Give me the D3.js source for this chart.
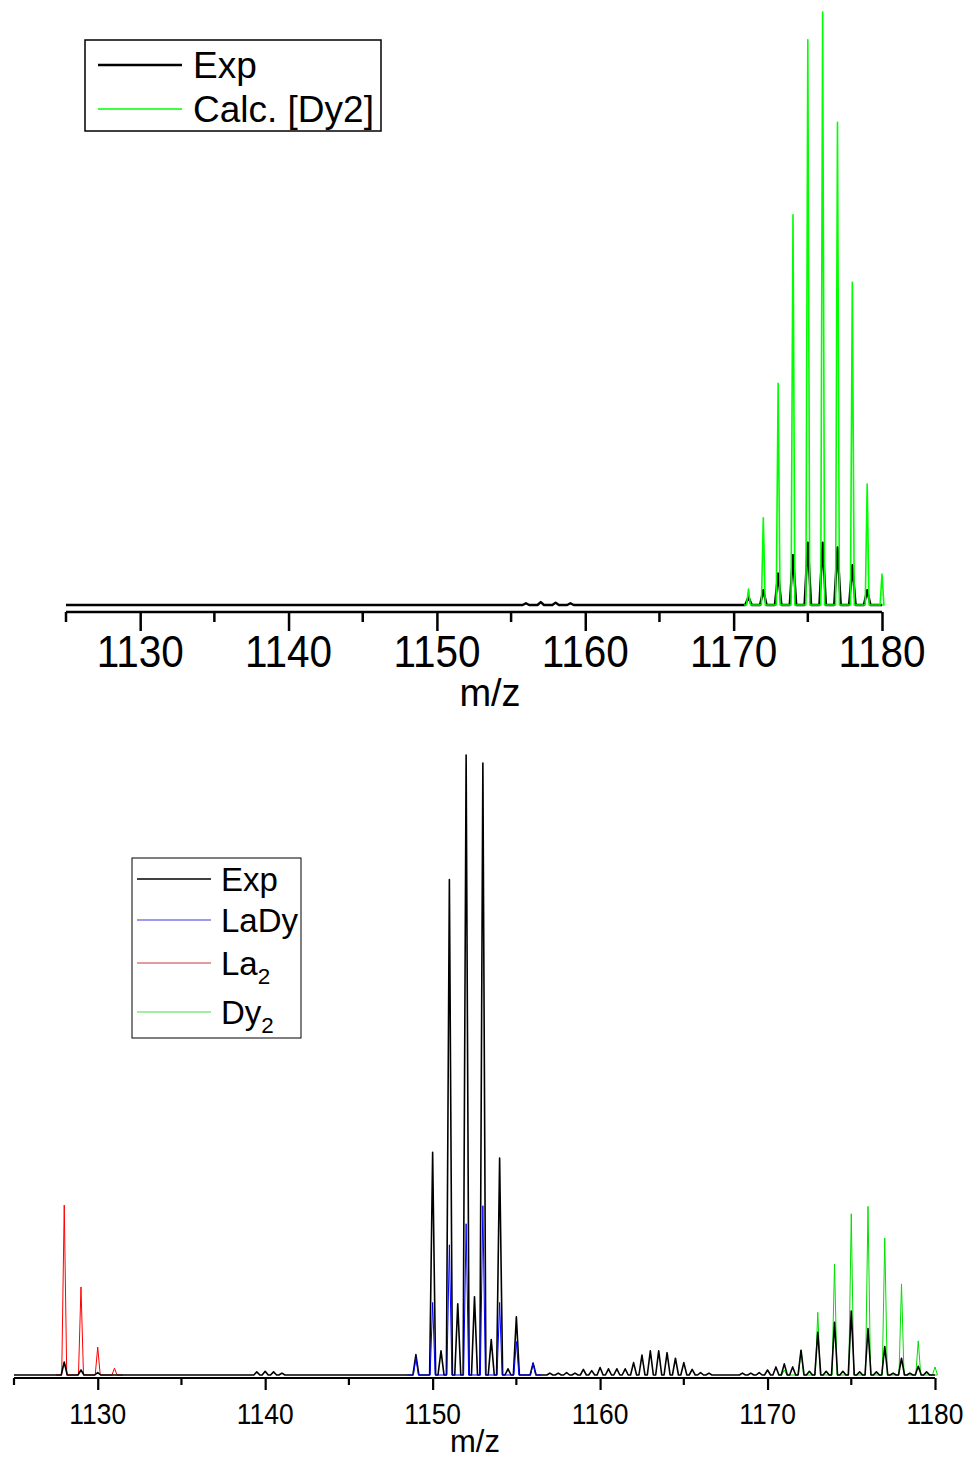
<!DOCTYPE html>
<html>
<head>
<meta charset="utf-8">
<script src="https://cdn.jsdelivr.net/npm/d3@7"></script>
<style>
  html, body { margin: 0; padding: 0; background: #fff; }
  svg { display: block; font-family: "Liberation Sans", Arial, sans-serif; }
</style>
</head>
<body>
<svg id="chart" width="968" height="1461"></svg>
<script>
//// DATA  (m/z, relative intensity)

// top panel: experiment vs calculated Dy2
const topExp = [
  [1156, 0.3], [1157, 0.5], [1158, 0.4], [1159, 0.3],
  [1171, 1.3], [1172, 2.5], [1173, 5.3], [1174, 8.4], [1175, 10.5],
  [1176, 10.5], [1177, 9.7], [1178, 6.7], [1179, 2.5]
];
const topDy2 = [
  [1171, 2.7], [1172, 14.7], [1173, 37.4], [1174, 65.8], [1175, 95.3],
  [1176, 100], [1177, 81.4], [1178, 54.4], [1179, 20.4], [1180, 5.2]
];

// bottom panel: experiment vs LaDy, La2, Dy2
const botExp = [
  [1128, 2.1], [1129, 0.8], [1130, 0.4],
  [1139.5, 0.5], [1140, 0.6], [1140.5, 0.5], [1141, 0.3],
  [1149, 3.3], [1150, 35.9], [1150.5, 3.9], [1151, 79.9], [1151.5, 11.5],
  [1152, 100], [1152.5, 12.6], [1153, 98.7], [1153.5, 5.7], [1154, 35],
  [1154.5, 1], [1155, 9.4], [1156, 1.9],
  [1157, 0.3], [1157.5, 0.3], [1158, 0.4], [1158.5, 0.3], [1159, 0.9],
  [1159.5, 0.7], [1160, 1.2], [1160.5, 1.0], [1161, 1.0], [1161.5, 1.0],
  [1162, 2.0], [1162.5, 3.2], [1163, 3.9], [1163.5, 3.9], [1164, 3.6],
  [1164.5, 2.7], [1165, 2.0], [1165.5, 0.9], [1166, 0.4], [1166.5, 0.3],
  [1168.5, 0.3], [1169, 0.3], [1169.5, 0.4],
  [1170, 0.8], [1170.5, 1.3], [1171, 1.8], [1171.5, 1.3], [1172, 4.0],
  [1172.5, 0.6], [1173, 6.9], [1173.5, 0.6], [1174, 8.5], [1174.5, 0.6],
  [1175, 10.3], [1175.5, 0.5], [1176, 7.5], [1176.5, 0.5], [1177, 4.6],
  [1177.5, 0.3], [1178, 2.7], [1178.5, 0.3], [1179, 1.4], [1179.5, 0.5]
];
const botLaDy = [
  [1149, 2.7], [1150, 11.7], [1151, 21], [1152, 24.4], [1153, 27.3],
  [1154, 11.7], [1155, 5.4], [1156, 2]
];
const botLa2 = [[1128, 27.4], [1129, 14.2], [1130, 4.5], [1131, 1.1]];
const botDy2 = [
  [1171, 0.8], [1172, 4.0], [1173, 10.1], [1174, 17.9], [1175, 26.0],
  [1176, 27.2], [1177, 22.1], [1178, 14.7], [1179, 5.5], [1180, 1.3]
];

const majorTicks = [1130, 1140, 1150, 1160, 1170, 1180];
const minorTicks = [1125, 1135, 1145, 1155, 1165, 1175];

//// SETUP

const svg = d3.select("#chart");

// turn a peak list into a stick-like trace between lo and hi
function trace(peaks, hw, lo, hi) {
  let pts = [[lo, 0]];
  peaks.forEach(function (p) {
    pts.push([p[0] - hw, 0], [p[0], p[1]], [p[0] + hw, 0]);
  });
  pts.push([hi, 0]);
  return pts;
}

function drawPanel(opt) {
  const x = d3.scaleLinear().domain([1125, 1180]).range([opt.x0, opt.x1]);
  const y = d3.scaleLinear().domain([0, 100]).range([opt.base, opt.top]);
  const line = d3.line().x(d => x(d[0])).y(d => y(d[1]));
  const g = svg.append("g");

  opt.series.forEach(function (s) {
    g.append("path")
      .datum(trace(s.peaks, s.hw, s.lo, s.hi))
      .attr("d", line)
      .attr("fill", "none")
      .attr("stroke", s.color)
      .attr("stroke-width", s.width)
      .attr("stroke-linejoin", "round");
  });

  // bottom axis
  const ax = g.append("g").attr("transform", "translate(0," + opt.axisY + ")");
  ax.call(d3.axisBottom(x).tickValues(majorTicks).tickSize(opt.major).tickFormat(""));
  ax.call(g2 => g2.selectAll(".minor").data(minorTicks).enter()
    .append("line").attr("class", "minor")
    .attr("x1", d => x(d)).attr("x2", d => x(d))
    .attr("y1", 0).attr("y2", opt.minor));
  ax.selectAll(".domain").attr("d", "M" + opt.x0 + ",0H" + opt.x1);
  ax.selectAll("path, line").attr("stroke", "#000").attr("stroke-width", opt.axisW);

  majorTicks.forEach(function (t) {
    g.append("text")
      .attr("transform", "translate(" + x(t) + "," + opt.labelY + ") scale(" + opt.squeeze + ",1)")
      .attr("text-anchor", "middle")
      .attr("font-size", opt.labelSize)
      .text(t);
  });
  g.append("text")
    .attr("x", opt.titleX).attr("y", opt.titleY)
    .attr("text-anchor", "middle")
    .attr("font-size", opt.titleSize)
    .text("m/z");
}

//// PANELS

drawPanel({
  x0: 66, x1: 882, base: 605, top: 12, axisY: 612,
  major: 19, minor: 10, axisW: 2.5,
  labelY: 667, labelSize: 45, squeeze: 0.9,
  titleX: 490, titleY: 706, titleSize: 38,
  series: [
    { peaks: topExp, hw: 0.22, lo: 1125, hi: 1180, color: "#000", width: 2.4 },
    { peaks: topDy2, hw: 0.13, lo: 1170.7, hi: 1180, color: "#00ff00", width: 1.6 }
  ]
});

drawPanel({
  x0: 14, x1: 935, base: 1375, top: 755, axisY: 1378,
  major: 12, minor: 7, axisW: 2.2,
  labelY: 1424, labelSize: 30, squeeze: 0.88,
  titleX: 475, titleY: 1452, titleSize: 31,
  series: [
    { peaks: botLa2, hw: 0.15, lo: 1127.5, hi: 1131.5, color: "#ff0000", width: 1 },
    { peaks: botDy2, hw: 0.15, lo: 1170.7, hi: 1180, color: "#00e000", width: 1 },
    { peaks: botExp, hw: 0.18, lo: 1125, hi: 1180, color: "#000", width: 1.6 },
    { peaks: botLaDy, hw: 0.15, lo: 1148.5, hi: 1156.5, color: "#0000ff", width: 1 }
  ]
});

//// LEGENDS

function legend(box, items, o) {
  const g = svg.append("g");
  g.append("rect")
    .attr("x", box[0]).attr("y", box[1]).attr("width", box[2]).attr("height", box[3])
    .attr("fill", "#fff").attr("stroke", "#000").attr("stroke-width", o.border);
  items.forEach(function (it, i) {
    const cy = o.rows[i];
    g.append("line")
      .attr("x1", o.lx0).attr("x2", o.lx1).attr("y1", cy).attr("y2", cy)
      .attr("stroke", it.color).attr("stroke-width", it.width);
    const t = g.append("text")
      .attr("x", o.tx).attr("y", cy + o.size * 0.36)
      .attr("font-size", o.size);
    t.append("tspan").text(it.name);
    if (it.sub) {
      t.append("tspan").attr("font-size", o.size * 0.68).attr("dy", o.size * 0.28).text(it.sub);
    }
  });
}

legend([85, 40, 296, 91], [
  { name: "Exp", color: "#000", width: 2.5 },
  { name: "Calc. [Dy2]", color: "#00ff00", width: 1.5 }
], { rows: [65, 109], lx0: 98, lx1: 182, tx: 193, size: 37, border: 1.5 });

legend([132, 858, 169, 180], [
  { name: "Exp", color: "#000", width: 1.5 },
  { name: "LaDy", color: "#3a3ad8", width: 1.2 },
  { name: "La", sub: "2", color: "#c83a3a", width: 1.2 },
  { name: "Dy", sub: "2", color: "#44dd44", width: 1.2 }
], { rows: [879, 920, 963, 1012], lx0: 137, lx1: 211, tx: 221, size: 33, border: 1 });
</script>
</body>
</html>
